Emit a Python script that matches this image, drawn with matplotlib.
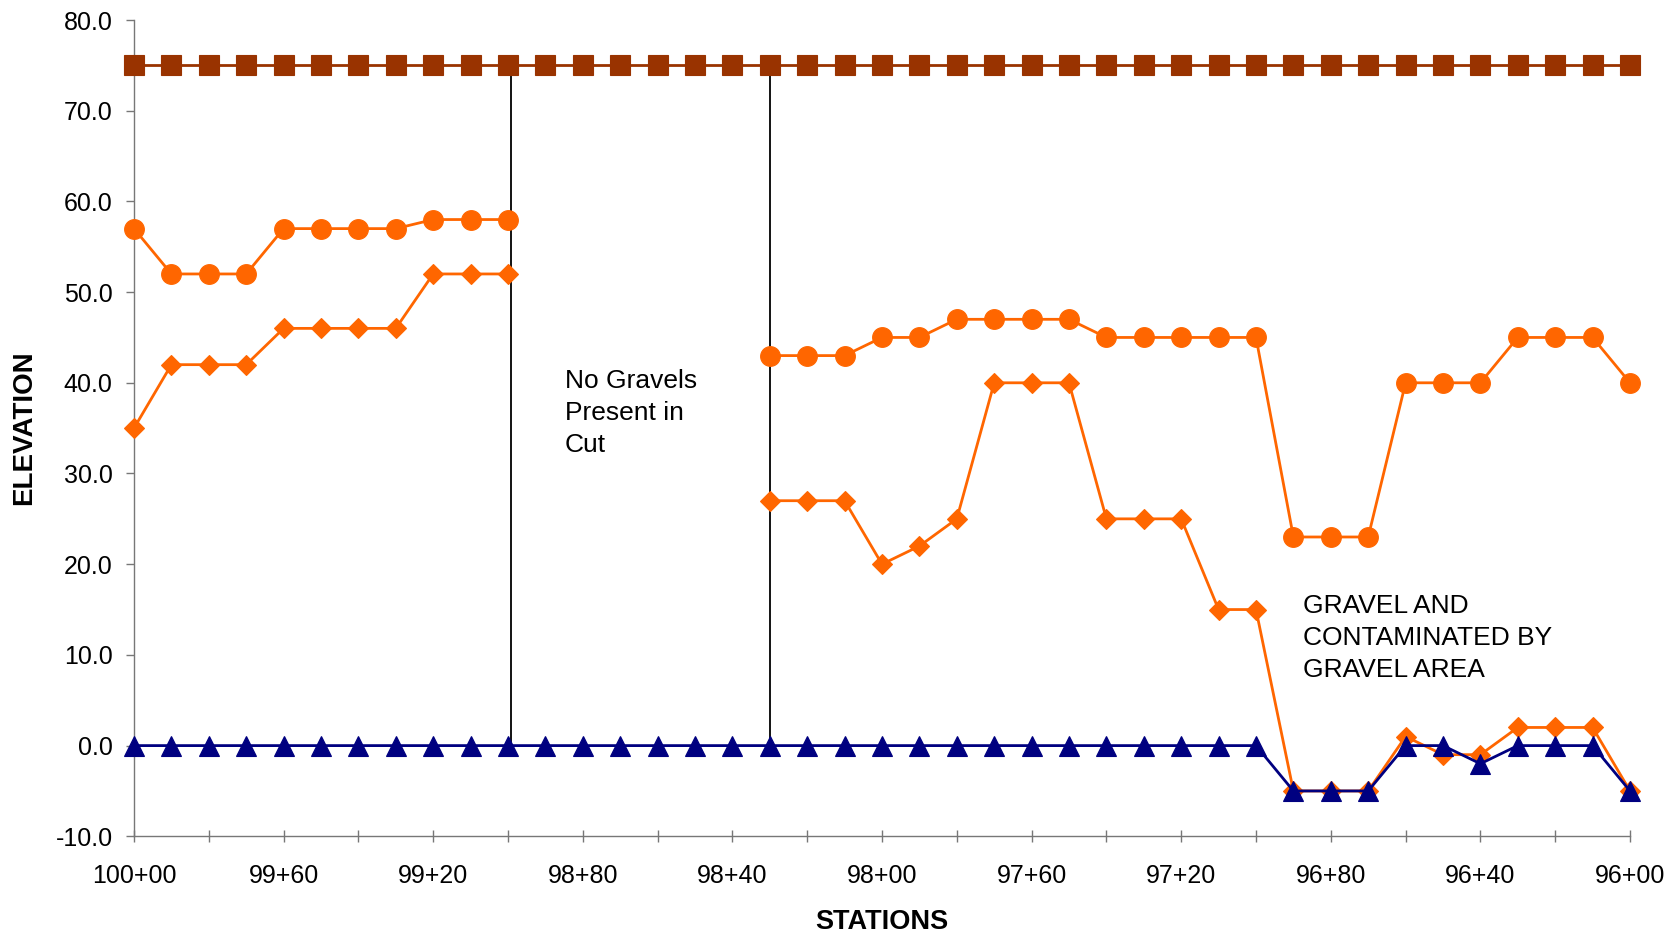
import numpy as np
import matplotlib
matplotlib.use("Agg")
import matplotlib.pyplot as plt
from matplotlib.ticker import FixedLocator, FuncFormatter, MultipleLocator

plt.rcParams['font.family'] = ['Liberation Sans', 'DejaVu Sans']

nan = np.nan

# Stations in feet (100+00 = 10000 ft), every 10 ft
stations = [10000, 9990, 9980, 9970, 9960, 9950, 9940, 9930, 9920, 9910,
            9900, 9890, 9880, 9870, 9860, 9850, 9840, 9830, 9820, 9810,
            9800, 9790, 9780, 9770, 9760, 9750, 9740, 9730, 9720, 9710,
            9700, 9690, 9680, 9670, 9660, 9650, 9640, 9630, 9620, 9610,
            9600]

top_surface = [75, 75, 75, 75, 75, 75, 75, 75, 75, 75,
               75, 75, 75, 75, 75, 75, 75, 75, 75, 75,
               75, 75, 75, 75, 75, 75, 75, 75, 75, 75,
               75, 75, 75, 75, 75, 75, 75, 75, 75, 75,
               75]

gravel_top = [57, 52, 52, 52, 57, 57, 57, 57, 58, 58,
              58, nan, nan, nan, nan, nan, nan, 43, 43, 43,
              45, 45, 47, 47, 47, 47, 45, 45, 45, 45,
              45, 23, 23, 23, 40, 40, 40, 45, 45, 45,
              40]

gravel_bottom = [35, 42, 42, 42, 46, 46, 46, 46, 52, 52,
                 52, nan, nan, nan, nan, nan, nan, 27, 27, 27,
                 20, 22, 25, 40, 40, 40, 25, 25, 25, 15,
                 15, -5, -5, -5, 1, -1, -1, 2, 2, 2,
                 -5]

base_grade = [0, 0, 0, 0, 0, 0, 0, 0, 0, 0,
              0, 0, 0, 0, 0, 0, 0, 0, 0, 0,
              0, 0, 0, 0, 0, 0, 0, 0, 0, 0,
              0, -5, -5, -5, 0, 0, -2, 0, 0, 0,
              -5]

label_stations = [10000, 9960, 9920, 9880, 9840, 9800, 9760, 9720, 9680, 9640, 9600]
y_ticks = [-10, 0, 10, 20, 30, 40, 50, 60, 70, 80]

divider_x = [9899.2, 9830]
divider_top = [74.2, 75.7]

note_no_gravel = "No Gravels\nPresent in\nCut"
note_gravel = "GRAVEL AND\nCONTAMINATED BY\nGRAVEL AREA"

ORANGE = '#FF6600'
DARKRED = '#993300'
NAVY = '#000080'
AXCOL = '#777777'

fig = plt.figure(figsize=(16.8, 9.35), dpi=100)
ax = fig.add_axes([134 / 1680, 1 - 836.3 / 935, (1630 - 134) / 1680, (836.3 - 20) / 935])

ax.plot(stations, top_surface, color=DARKRED, lw=2, marker='s', ms=14.2,
        mfc=DARKRED, mec=DARKRED, mew=0.8, clip_on=False, zorder=3)
ax.plot(stations, gravel_top, color=ORANGE, lw=2, marker='o', ms=14.2,
        mfc=ORANGE, mec=ORANGE, mew=0.8, clip_on=False, zorder=3)
ax.plot(stations, gravel_bottom, color=ORANGE, lw=2, marker='D', ms=10,
        mfc=ORANGE, mec=ORANGE, mew=0.8, clip_on=False, zorder=3)
ax.plot(stations, base_grade, color=NAVY, lw=2, marker='^', ms=14,
        mfc=NAVY, mec=NAVY, mew=0.8, clip_on=False, zorder=4)

for xv, yt in zip(divider_x, divider_top):
    ax.plot([xv, xv], [0, yt], color='black', lw=1.3, zorder=2.5)

# va='baseline' anchors the last line's baseline
ax.text(9884.8, 32.4, note_no_gravel, fontsize=19, ha='left', va='baseline',
        linespacing=1.42)
ax.text(9687.4, 7.6, note_gravel, fontsize=19, ha='left', va='baseline',
        linespacing=1.42)

ax.set_xlim(10000, 9600)
ax.set_ylim(-10, 80)

ax.xaxis.set_major_locator(FixedLocator(label_stations))
ax.xaxis.set_minor_locator(MultipleLocator(20))
ax.xaxis.set_major_formatter(FuncFormatter(lambda v, p: f"{int(round(v)) // 100}+{int(round(v)) % 100:02d}"))
ax.yaxis.set_major_locator(FixedLocator(y_ticks))
ax.yaxis.set_major_formatter(FuncFormatter(lambda v, p: f"{v:.1f}"))

for s in ['top', 'right']:
    ax.spines[s].set_visible(False)
for s in ['left', 'bottom']:
    ax.spines[s].set_color(AXCOL)
    ax.spines[s].set_linewidth(1.0)

ax.tick_params(axis='x', which='both', direction='inout', length=8.6, width=1,
               color=AXCOL, labelsize=18, pad=15.5)
ax.tick_params(axis='y', which='major', direction='out', length=5.8, width=1,
               color=AXCOL, labelsize=18, pad=9.5)

ax.set_xlabel("STATIONS", fontsize=19.5, fontweight='bold')
ax.xaxis.set_label_coords(0.5, -0.0885)
ax.set_ylabel("ELEVATION", fontsize=20, fontweight='bold')
ax.yaxis.set_label_coords(-0.0645, 0.5)

fig.savefig("out.png", dpi=100)
